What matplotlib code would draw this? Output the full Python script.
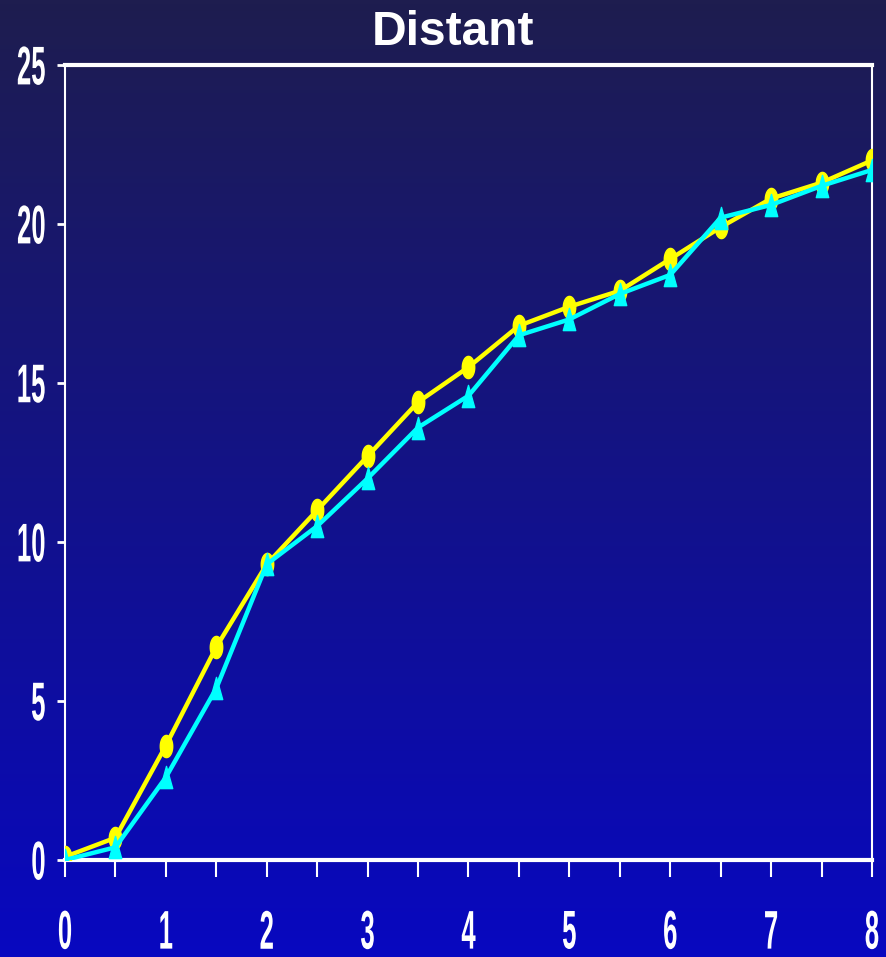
import numpy as np
import matplotlib
matplotlib.use('Agg')
import matplotlib.pyplot as plt
from matplotlib import patheffects
from matplotlib.path import Path
from matplotlib.transforms import Affine2D
from matplotlib.ticker import MultipleLocator

# data
x = [0, 0.5, 1, 1.5, 2, 2.5, 3, 3.5, 4, 4.5, 5, 5.5, 6, 6.5, 7, 7.5, 8]
yellow = [0.1, 0.7, 3.6, 6.7, 9.3, 11.0, 12.7, 14.4, 15.5, 16.8, 17.4, 17.9, 18.9, 19.9, 20.8, 21.3, 22.0]
cyan = [0.0, 0.4, 2.6, 5.4, 9.3, 10.5, 12.0, 13.6, 14.6, 16.5, 17.0, 17.8, 18.4, 20.2, 20.6, 21.2, 21.7]
yticks = [0, 5, 10, 15, 20, 25]
xticks = [0, 1, 2, 3, 4, 5, 6, 7, 8]


class Stretch(patheffects.AbstractPathEffect):
    # tick digits in the source are tall and narrow: stretch glyphs up/down about their middle
    def __init__(self, sy):
        super().__init__()
        self.sy = sy

    def draw_path(self, renderer, gc, tpath, affine, rgbFace=None):
        ext = tpath.get_extents()
        cy = (ext.y0 + ext.y1) / 2
        t = Affine2D().translate(0, -cy).scale(1, self.sy).translate(0, cy) + affine
        renderer.draw_path(gc, tpath, t, rgbFace)


# narrow markers
th = np.linspace(0, 2 * np.pi, 60)
ellipse = Path(np.column_stack([0.28 * np.cos(th), 0.5 * np.sin(th)]), closed=True)
tri = Path([(-0.28, -0.5), (0.28, -0.5), (0, 0.5), (-0.28, -0.5)], closed=True)

fig = plt.figure(figsize=(8.87, 9.57), dpi=100)

# gradient background
bg = fig.add_axes([0, 0, 1, 1], zorder=-10)
top = np.array([30, 29, 79]) / 255
bot = np.array([8, 8, 192]) / 255
t = np.linspace(0, 1, 256)[:, None]
grad = (top[None, :] * (1 - t) + bot[None, :] * t)[:, None, :]
bg.imshow(grad, aspect='auto', extent=[0, 1, 0, 1])
bg.axis('off')

ax = fig.add_axes([65 / 887, 97 / 957, 807 / 887, 795 / 957])
ax.set_facecolor('none')

ax.plot(x, yellow, color='#ffff00', lw=3.2, marker=ellipse, ms=16, mec='#ffff00', zorder=3)
ax.plot(x, cyan, color='#00ffff', lw=3.2, marker=tri, ms=16, mec='#00ffff', zorder=4)

ax.set_xlim(0, 8)
ax.set_ylim(0, 25)
ax.set_yticks(yticks)
ax.set_xticks(xticks)
ax.xaxis.set_minor_locator(MultipleLocator(0.5))

for side, w in [('top', 3), ('bottom', 3), ('left', 1.5), ('right', 1.5)]:
    ax.spines[side].set_color('white')
    ax.spines[side].set_linewidth(w)

ax.tick_params(axis='y', which='major', direction='out', length=6, width=2, color='white',
               labelcolor='white', labelsize=18.5, pad=8)
ax.tick_params(axis='x', which='both', direction='out', length=12, width=1.5, color='white',
               labelcolor='white', labelsize=18.5, pad=31)

for lab in ax.get_yticklabels() + ax.get_xticklabels():
    lab.set_fontfamily(['Liberation Sans', 'DejaVu Sans'])
    lab.set_fontweight('bold')
    lab.set_path_effects([Stretch(2.12)])

fig.text(453 / 887, (957 - 45) / 957, 'Distant', color='white', fontsize=34.5, fontweight='bold',
         family=['Liberation Sans', 'DejaVu Sans'], ha='center', va='baseline')

fig.savefig('out.png', dpi=100)
